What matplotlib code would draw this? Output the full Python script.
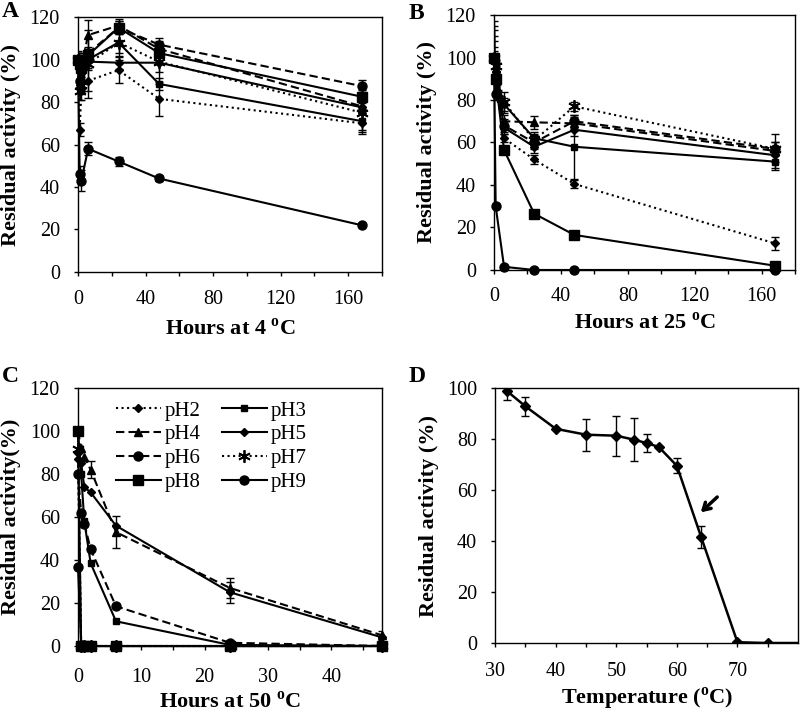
import matplotlib
matplotlib.use("Agg")
import matplotlib.pyplot as plt
import numpy as np

plt.rcParams['font.family'] = ['Liberation Serif', 'DejaVu Serif']
plt.rcParams['mathtext.fontset'] = 'custom'
plt.rcParams['mathtext.rm'] = 'Liberation Serif'
plt.rcParams['mathtext.bf'] = 'Liberation Serif:bold'

# series names and styles (pH2..pH9)
ph_names = ['pH2', 'pH3', 'pH4', 'pH5', 'pH6', 'pH7', 'pH8', 'pH9']

# A - hours at 4 C
hours_a = [0, 1, 2, 6, 24, 48, 168]
vals_a = [
    [100, 67, 85, 90, 95, 81.5, 70],
    [100, 95, 92, 100, 108, 88.5, 71],
    [100, 92, 97, 111.5, 116, 105, 78],
    [100, 88, 90, 99, 98.5, 98.5, 77.5],
    [100, 90, 95, 103, 115, 107, 87.5],
    [100, 85, 88, 98, 108, 99, 75],
    [100, 98, 96, 102, 115, 103, 82.5],
    [100, 46, 43, 58, 52, 44, 22],
]
err_a = [
    [0, 3, 4, 5, 6, 8, 5],
    [3, 2, 3, 3, 5, 3, 4],
    [4, 3, 3, 7, 3, 3, 3],
    [3, 3, 3, 3, 3, 10, 3],
    [3, 3, 3, 3, 3, 3, 3],
    [3, 4, 4, 16, 8, 5, 9],
    [3, 3, 3, 3, 3, 3, 3],
    [0, 4, 5, 3, 2, 1, 1],
]

# B - hours at 25 C
hours_b = [0, 1, 6, 24, 48, 168]
vals_b = [
    [100, 90, 62, 52, 40.5, 12.5],
    [100, 92, 78, 62, 58, 51],
    [100, 95, 70, 69.5, 69, 56],
    [100, 93, 67, 58, 66, 54],
    [100, 83, 68, 60, 70, 57],
    [100, 96, 79, 61, 77, 57],
    [100, 90, 56.5, 26.5, 16.5, 2],
    [100, 30, 1.5, 0, 0, 0],
]
err_b = [
    [17, 3, 2, 2, 2, 3],
    [15, 3, 3, 3, 15, 4],
    [13, 3, 3, 3, 3, 8],
    [10, 3, 3, 3, 3, 3],
    [8, 3, 3, 3, 3, 3],
    [5, 3, 5, 3, 2, 3],
    [3, 2, 1, 1, 1, 1],
    [2, 1, 0, 0, 0, 0],
]

# C - hours at 50 C
hours_c = [0, 0.5, 1, 2, 6, 24, 48]
vals_c = [
    [87, 0, 0, 0, 0, 0, 0],
    [100, 80, 58, 38.5, 11.5, 0.5, 0],
    [100, 92, 88, 82, 53, 27, 5],
    [90, 85, 74, 71.5, 56, 25, 4],
    [80, 62, 57, 45, 18.5, 1.5, 0],
    [91.5, 0, 0, 0, 0, 0, 0],
    [100, 0, 0, 0, 0, 0, 0],
    [37, 0, 0, 0, 0, 0, 0],
]
err_c = [
    [0, 0, 0, 0, 0, 0, 0],
    [0, 0, 0, 0, 0, 0, 0],
    [0, 0, 0, 4, 7.5, 4.5, 2],
    [0, 0, 0, 0, 0, 5, 0],
    [0, 0, 0, 0, 0, 0, 0],
    [0, 0, 0, 0, 0, 0, 0],
    [0, 0, 0, 0, 0, 0, 0],
    [0, 0, 0, 0, 0, 0, 0],
]

# D - temperature
temp_d = [32, 35, 40, 45, 50, 53, 55, 57, 60, 64, 70, 75, 80]
vals_d = [98.7, 92.8, 84, 81.7, 81.3, 79.7, 78.4, 76.9, 69.5, 41.6, 0.3, 0, 0]
err_d = [3.5, 3.8, 0, 6.3, 7.8, 8.5, 3.5, 0, 3, 4.2, 0, 0, 0]

styles = [
    dict(ls=':', marker='D', ms=4.5),
    dict(ls='-', marker='s', ms=4.5),
    dict(ls=(0, (4, 2)), marker='^', ms=6),
    dict(ls='-', marker='D', ms=4.5),
    dict(ls=(0, (4, 2)), marker='o', ms=6.5),
    dict(ls=':', marker=(6, 2, 0), ms=9, mew=1.3),
    dict(ls='-', marker='s', ms=7),
    dict(ls='-', marker='o', ms=6.5),
]

fig = plt.figure(figsize=(8, 7.15), dpi=100)
ax_a = fig.add_axes([0.0975, 0.6196, 0.38, 0.3566])
ax_b = fig.add_axes([0.6175, 0.6224, 0.3765, 0.3566])
ax_c = fig.add_axes([0.0975, 0.0965, 0.38, 0.3605])
ax_d = fig.add_axes([0.619, 0.1007, 0.3785, 0.3566])


def draw(ax, x, vals, errs):
    handles = []
    for v, e, st in zip(vals, errs, styles):
        e = np.array(e, dtype=float)
        ax.errorbar(x, v, yerr=np.where(e > 0, e, np.nan), fmt='none',
                    ecolor='black', elinewidth=1, capsize=3, zorder=2)
        h, = ax.plot(x, v, color='black', lw=1.5, mfc='black', mec='black',
                     zorder=3, clip_on=False, **st)
        handles.append(h)
    return handles


def style_axes(ax, ylab='Residual activity (%)', xpad=10):
    for s in ax.spines.values():
        s.set_linewidth(1.0)
    ax.tick_params(direction='out', length=3, width=1, labelsize=14.5)
    ax.tick_params(axis='x', pad=xpad)
    ax.tick_params(axis='y', pad=10)
    ax.set_ylabel(ylab, fontsize=16, fontweight='bold', labelpad=6)


draw(ax_a, hours_a, vals_a, err_a)
ax_a.set_xlim(0, 180)
ax_a.set_ylim(0, 120)
ax_a.set_xticks(np.arange(0, 181, 20))
ax_a.set_xticklabels([str(t) if t % 40 == 0 and t < 180 else '' for t in range(0, 181, 20)])
ax_a.set_yticks(np.arange(0, 121, 20))
style_axes(ax_a)
ax_a.set_xlabel(r'Hours at 4 $^{\mathbf{o}}$C', fontsize=16, fontweight='bold', labelpad=7)

draw(ax_b, hours_b, vals_b, err_b)
ax_b.set_xlim(0, 180)
ax_b.set_ylim(0, 120)
ax_b.set_xticks(np.arange(0, 181, 20))
ax_b.set_xticklabels([str(t) if t % 40 == 0 and t < 180 else '' for t in range(0, 181, 20)])
ax_b.set_yticks(np.arange(0, 121, 20))
style_axes(ax_b, xpad=9)
ax_b.set_xlabel(r'Hours at 25 $^{\mathbf{o}}$C', fontsize=16, fontweight='bold', labelpad=5)

hs = draw(ax_c, hours_c, vals_c, err_c)
ax_c.set_xlim(0, 48)
ax_c.set_ylim(0, 120)
ax_c.set_xticks(np.arange(0, 46, 5))
ax_c.set_xticklabels([str(t) if t % 10 == 0 else '' for t in range(0, 46, 5)])
ax_c.set_yticks(np.arange(0, 121, 20))
style_axes(ax_c, 'Residual activity(%)', xpad=13)
ax_c.set_xlabel(r'Hours at 50 $^{\mathbf{o}}$C', fontsize=16, fontweight='bold', labelpad=3)
order = [0, 2, 4, 6, 1, 3, 5, 7]
ax_c.legend([hs[i] for i in order], [ph_names[i] for i in order], ncol=2,
            loc='upper left', bbox_to_anchor=(0.125, 0.95), frameon=False,
            fontsize=15, handlelength=2.15, handletextpad=0.2,
            columnspacing=1.0, labelspacing=0.2, borderaxespad=0, borderpad=0)

ax_d.errorbar(temp_d, vals_d, yerr=np.where(np.array(err_d) > 0, err_d, np.nan),
              fmt='none', ecolor='black', elinewidth=1, capsize=3)
ax_d.plot(temp_d, vals_d, color='black', lw=1.8, marker='D', ms=5.5,
          mfc='black', mec='black', markevery=list(range(len(temp_d) - 1)))
ax_d.set_xlim(30, 80)
ax_d.set_ylim(0, 100)
ax_d.set_xticks(np.arange(30, 80, 5))
ax_d.set_xticklabels([str(t) if t % 10 == 0 else '' for t in range(30, 80, 5)])
ax_d.set_yticks(np.arange(0, 101, 20))
style_axes(ax_d, xpad=11)
ax_d.set_xlabel(r'Temperature ($^{\mathbf{o}}$C)', fontsize=16, fontweight='bold', labelpad=3)
ax_d.annotate('', xy=(63.6, 50.5), xytext=(67, 58),
              arrowprops=dict(arrowstyle='->,head_length=0.5,head_width=0.3',
                              lw=2.5, color='black'))

for lbl, x, y in [('A', 0.002, 0.998), ('B', 0.511, 0.996),
                  ('C', 0.002, 0.488), ('D', 0.511, 0.488)]:
    fig.text(x, y, lbl, fontsize=17, fontweight='bold', va='top', ha='left')

fig.savefig('out.png', dpi=100)
